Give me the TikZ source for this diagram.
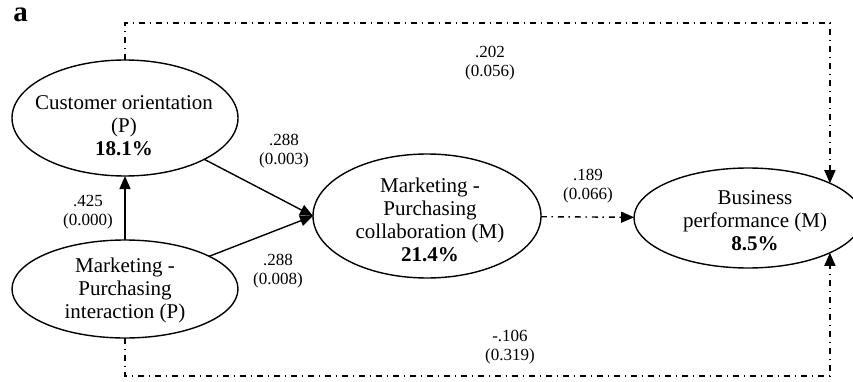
\documentclass[tikz,border=0pt]{standalone}
\usepackage{fontspec}
\setmainfont{Liberation Serif}
\usetikzlibrary{shapes.geometric,arrows.meta}

\tikzset{
  construct/.style={ellipse, draw, line width=1.4pt, inner sep=0pt, outer sep=0pt},
  ctext/.style={align=center, inner sep=0pt, font=\fontsize{21}{23}\selectfont},
  coef/.style={align=center, inner sep=0pt, font=\fontsize{17}{19}\selectfont},
  solidarr/.style={line width=1.4pt, -{Triangle[length=13pt,width=11pt]}},
  dasharr/.style={line width=1.4pt, dash pattern=on 6pt off 4.5pt on 1.5pt off 5pt,
    -{Triangle[length=13pt,width=11pt]}},
}

\begin{document}
\begin{tikzpicture}[x=1pt,y=-1pt]
  \useasboundingbox (0,0) rectangle (853,382);

  % Etiqueta del panel
  \node[inner sep=0pt, font=\bfseries\fontsize{29}{31}\selectfont] (panel) at (20.5,15) {a};

  % constructos
  \node[construct, minimum width=226pt, minimum height=116pt] (co) at (125,118) {};
  \node[ctext] (cotext) at (124,126) {Customer orientation\\(P)\\\textbf{18.1\%}};

  \node[construct, minimum width=226pt, minimum height=98pt] (mpi) at (125,289) {};
  \node[ctext] (mpitext) at (125,290) {Marketing -\\Purchasing\\interaction (P)};

  \node[construct, minimum width=228pt, minimum height=124pt] (col) at (427,216) {};
  \node[ctext] (coltext) at (430,220) {Marketing -\\Purchasing\\collaboration (M)\\\textbf{21.4\%}};

  \node[construct, minimum width=228pt, minimum height=100pt] (bp) at (748,218) {};
  \node[ctext] (bptext) at (755,221) {Business\\performance (M)\\\textbf{8.5\%}};

  % filas de los caminos de trazos
  \coordinate (toprow) at (0,23);
  \coordinate (botrow) at (0,376);

  % caminos
  \draw[solidarr] (mpi) -- (co);
  \draw[solidarr] (co) -- (col.west);
  \draw[solidarr] (mpi) -- (col.west);
  \draw[dasharr] (col) -- (bp);
  \draw[dasharr] (co.north) |- (bp.23 |- toprow) -- (bp.23);
  \draw[dasharr] (mpi.south) |- (bp.-23 |- botrow) -- (bp.-23);

  % coeficientes
  \node[coef] (c202) at (490,63) {.202\\(0.056)};
  \node[coef] (c288a) at (284,151) {.288\\(0.003)};
  \node[coef] (c425) at (88,212) {.425\\(0.000)};
  \node[coef] (c288b) at (278,271) {.288\\(0.008)};
  \node[coef] (c189) at (588,186) {.189\\(0.066)};
  \node[coef] (c106) at (510,347) {-.106\\(0.319)};
\end{tikzpicture}
\end{document}
